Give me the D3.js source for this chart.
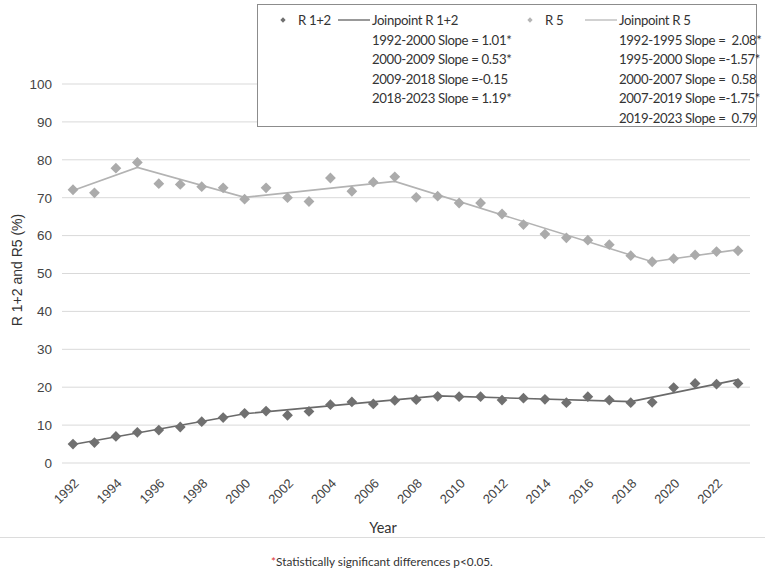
<!DOCTYPE html>
<html>
<head>
<meta charset="utf-8">
<script src="https://cdn.jsdelivr.net/npm/d3@7"></script>
<style>
  body { margin: 0; background: #fff; }
  svg { display: block; }
</style>
</head>
<body>
<div id="chart"></div>
<script>
// year-by-year values (%)
const years = d3.range(1992, 2024);
const r12 = [5.0, 5.4, 7.0, 8.1, 8.7, 9.5, 10.9, 12.0, 13.1, 13.7, 12.6, 13.6,
             15.4, 16.1, 15.6, 16.5, 16.7, 17.6, 17.5, 17.5, 16.6, 17.1, 16.8, 15.9,
             17.5, 16.6, 15.9, 16.0, 19.9, 21.0, 20.8, 21.0];
const r5 = [72.1, 71.3, 77.8, 79.3, 73.7, 73.5, 72.9, 72.6, 69.6, 72.6, 70.0, 69.0,
            75.2, 71.7, 74.1, 75.5, 70.1, 70.4, 68.6, 68.6, 65.7, 62.9, 60.4, 59.4,
            58.8, 57.6, 54.7, 53.1, 53.9, 54.9, 55.8, 56.0];

// joinpoint segments
const jpYears12 = [1992, 2000, 2009, 2018, 2023];
const jpVals12 = [4.9, 13.0, 17.7, 16.2, 22.0];
const jpYears5 = [1992, 1995, 2000, 2007, 2019, 2023];
const jpVals5 = [71.9, 78.0, 70.1, 74.3, 53.1, 56.3];

const yTicks = d3.range(0, 101, 10);
const xTicks = d3.range(1992, 2024, 2);

const legend12 = ["1992-2000 Slope = 1.01*", "2000-2009 Slope = 0.53*",
                  "2009-2018 Slope =-0.15", "2018-2023 Slope = 1.19*"];
const legend5 = ["1992-1995 Slope =  2.08*", "1995-2000 Slope =-1.57*",
                 "2000-2007 Slope =  0.58", "2007-2019 Slope =-1.75*",
                 "2019-2023 Slope =  0.79"];

const W = 765, H = 570;
const dark = "#707070", light = "#ababab";
const font = "Lato, 'Open Sans', sans-serif";
const axisFont = "'Liberation Sans', Arial, sans-serif";

const svg = d3.select("#chart").append("svg")
  .attr("width", W).attr("height", H)
  .style("font-family", font);

const x = d3.scaleLinear().domain([1992, 2023]).range([73, 738]);
const y = d3.scaleLinear().domain([0, 100]).range([463, 84]);

// gridlines
svg.append("g").selectAll("line")
  .data(yTicks).enter().append("line")
  .attr("x1", 62).attr("x2", 750)
  .attr("y1", d => y(d)).attr("y2", d => y(d))
  .attr("stroke", "#d9d9d9").attr("stroke-width", 1);

// y axis labels
const yAxis = d3.axisLeft(y).tickValues(yTicks).tickSize(0).tickPadding(0);
svg.append("g").attr("transform", "translate(52,0)").call(yAxis)
  .call(g => g.select(".domain").remove())
  .selectAll("text")
  .attr("font-size", 13.5).attr("font-family", axisFont)
  .attr("fill", "#444");

// x axis labels, rotated
const xAxis = d3.axisBottom(x).tickValues(xTicks).tickSize(0).tickFormat(d3.format("d"));
svg.append("g").attr("transform", "translate(0,463)").call(xAxis)
  .call(g => g.select(".domain").remove())
  .selectAll("text")
  .attr("font-size", 13).attr("font-family", axisFont)
  .attr("fill", "#444")
  .attr("text-anchor", "end")
  .attr("dy", null)
  .attr("transform", "translate(4,19) rotate(-45)");

// axis titles
svg.append("text")
  .attr("transform", "translate(22,270) rotate(-90)")
  .attr("text-anchor", "middle")
  .attr("font-size", 14).attr("font-family", axisFont)
  .attr("fill", "#333")
  .text("R 1+2 and R5 (%)");

svg.append("text")
  .attr("x", 383).attr("y", 533)
  .attr("text-anchor", "middle")
  .attr("font-size", 14.5).attr("fill", "#333")
  .text("Year");

// joinpoint lines
const line = d3.line().x(d => x(d[0])).y(d => y(d[1]));
svg.append("path")
  .datum(d3.zip(jpYears5, jpVals5))
  .attr("d", line).attr("fill", "none")
  .attr("stroke", "#b3b3b3").attr("stroke-width", 1.6);
svg.append("path")
  .datum(d3.zip(jpYears12, jpVals12))
  .attr("d", line).attr("fill", "none")
  .attr("stroke", "#6a6a6a").attr("stroke-width", 1.6);

// diamond markers
const diamond = d3.symbol().type(d3.symbolSquare).size(58);
function markers(vals, color) {
  svg.append("g").selectAll("path")
    .data(d3.zip(years, vals)).enter().append("path")
    .attr("d", diamond)
    .attr("transform", d => `translate(${x(d[0])},${y(d[1])}) rotate(45)`)
    .attr("fill", color);
}
markers(r5, light);
markers(r12, dark);

// legend box
const lg = svg.append("g");
lg.append("rect")
  .attr("x", 257.5).attr("y", 4.5).attr("width", 499).attr("height", 122)
  .attr("fill", "#fff").attr("stroke", "#8c8c8c").attr("stroke-width", 1);

const small = d3.symbol().type(d3.symbolSquare).size(14);
const rowY = i => 25 + i * 19.6;
function legendText(sel) {
  return sel.attr("font-size", 13.2).attr("fill", "#333")
    .attr("letter-spacing", -0.35).style("white-space", "pre");
}
function legendBlock(x0, label, color, lineColor, jpLabel, rows) {
  lg.append("path").attr("d", small)
    .attr("transform", `translate(${x0},${rowY(0) - 5}) rotate(45)`)
    .attr("fill", color);
  lg.append("text").attr("x", x0 + 15).attr("y", rowY(0))
    .call(legendText).text(label);
  lg.append("line")
    .attr("x1", x0 + 55).attr("x2", x0 + 87)
    .attr("y1", rowY(0) - 5).attr("y2", rowY(0) - 5)
    .attr("stroke", lineColor).attr("stroke-width", 1.2);
  lg.append("text").attr("x", x0 + 89).attr("y", rowY(0))
    .call(legendText).text(jpLabel);
  lg.selectAll(null).data(rows).enter().append("text")
    .attr("x", x0 + 89).attr("y", (d, i) => rowY(i + 1))
    .call(legendText)
    .text(d => d);
}
legendBlock(283, "R 1+2", dark, "#555", "Joinpoint R 1+2", legend12);
legendBlock(530, "R 5", "#b5b5b5", "#b3b3b3", "Joinpoint R 5", legend5);

// footer
svg.append("line")
  .attr("x1", 0).attr("x2", W).attr("y1", 537.5).attr("y2", 537.5)
  .attr("stroke", "#dcdcdc").attr("stroke-width", 1);

const foot = svg.append("text")
  .attr("x", 382).attr("y", 566)
  .attr("text-anchor", "middle")
  .attr("font-size", 11.8).attr("fill", "#333");
foot.append("tspan").attr("fill", "#d33").text("*");
foot.append("tspan").text("Statistically significant differences p<0.05.");
</script>
</body>
</html>
